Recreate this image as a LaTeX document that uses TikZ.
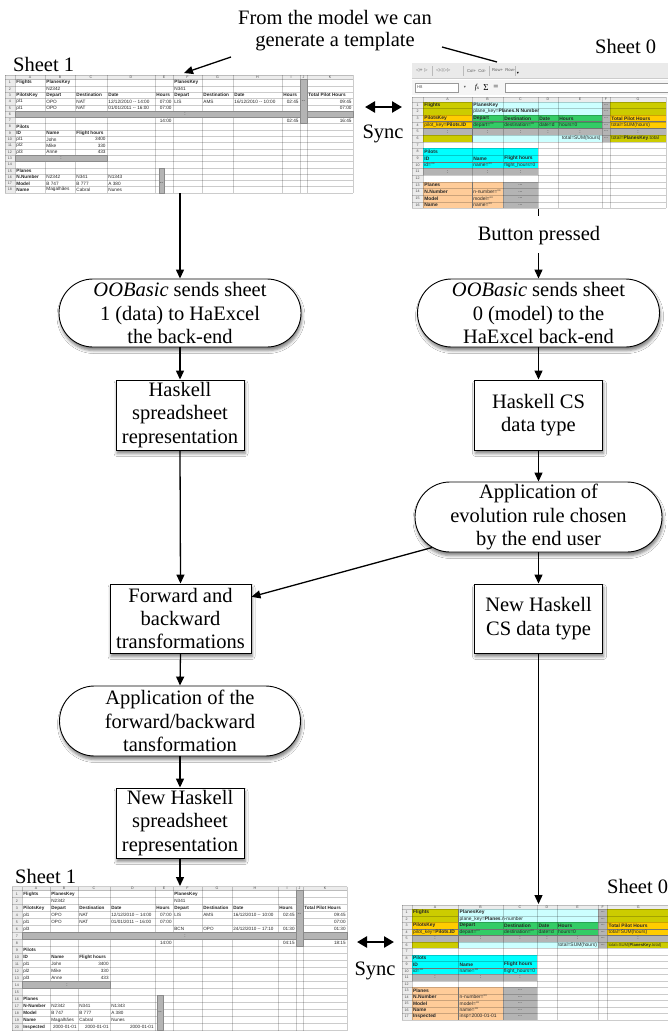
\documentclass[tikz,border=0pt]{standalone}
\usepackage{fontspec}
\setmainfont{Liberation Serif}
\newfontfamily\cellfam{Liberation Sans}
\newfontfamily\symfam{DejaVu Sans}
\usetikzlibrary{arrows.meta,shapes.misc,shadows.blur}
\definecolor{olivec}{HTML}{CCCC00}
\definecolor{lcyanc}{HTML}{CCFFFF}
\definecolor{orangec}{HTML}{FFCC00}
\definecolor{greenc}{HTML}{33CC66}
\definecolor{cyanc}{HTML}{00FFFF}
\definecolor{peachc}{HTML}{FFCC99}
\definecolor{barg}{HTML}{B4B4B4}
\definecolor{bard}{HTML}{8A8A8A}
\definecolor{hdrc}{HTML}{ECECEC}
\definecolor{tbc}{HTML}{EAEAEA}
\definecolor{celltext}{HTML}{262626}
\newcount\cno
\newcommand\cfs{4.7}
\newcommand\cellf{\cellfam\fontsize{\cfs}{\cfs}\selectfont}
\newcommand\cellfb{\cellfam\bfseries\fontsize{\cfs}{\cfs}\selectfont}
\newcommand\hdrf{\cellfam\fontsize{3.6}{3.6}\selectfont}
\newcommand\flowf{\fontsize{20.5}{23.3}\selectfont}
\newcommand\cellnode[4]{\global\advance\cno by 1\relax\edef\cellname{c\the\cno}\node[#1] (\cellname) at ({#2},{#3}) {#4};}
\newcommand\ctl[3]{\cellnode{cl}{#1+1.2}{#2-0.5}{#3}}
\newcommand\ctb[3]{\cellnode{cb}{#1+1.2}{#2-0.5}{#3}}
\newcommand\ctr[3]{\cellnode{cr}{#1-1.2}{#2-0.5}{#3}}
\newcommand\ctc[3]{\cellnode{cc}{#1}{#2-0.5}{#3}}
\newcommand\chc[3]{\cellnode{hc}{(#1+#2)/2}{-\hh/2}{#3}}
\newcommand\crn[1]{\cellnode{hc}{(\xL+\xA)/2}{#1-0.5}{#1}}
\tikzset{
  cl/.style={anchor=west,inner sep=0pt,font=\cellf,text=celltext},
  cb/.style={anchor=west,inner sep=0pt,font=\cellfb,text=celltext},
  cr/.style={anchor=east,inner sep=0pt,font=\cellf,text=celltext},
  cc/.style={anchor=center,inner sep=0pt,font=\cellf,text=celltext},
  hc/.style={anchor=center,inner sep=0pt,font=\hdrf,text=black!70},
  gl/.style={draw=black,opacity=0.2,line width=0.3pt},
  bar/.style={fill=barg,draw=bard,line width=0.3pt},
  sep/.style={draw=black!55,line width=0.45pt},
  tb/.style={inner sep=0pt,font=\cellfam\fontsize{4.2}{4.2}\selectfont,text=black!65},
  oval/.style={rounded rectangle,draw,line width=0.9pt,fill=white,minimum width=234pt,minimum height=68pt,
    align=center,font=\flowf,inner xsep=-4pt,inner ysep=0pt,
    blur shadow={shadow xshift=1pt,shadow yshift=-3.5pt,shadow blur radius=3pt,shadow opacity=50}},
  box/.style={rectangle,draw,line width=0.9pt,fill=white,minimum width=128pt,minimum height=70pt,
    align=center,font=\flowf,inner sep=0pt,
    blur shadow={shadow xshift=1pt,shadow yshift=-3.5pt,shadow blur radius=3pt,shadow opacity=50}},
  arr/.style={line width=1.3pt,-{Triangle[length=9pt,width=8pt]}},
  ln/.style={line width=1.3pt},
  dbl/.style={line width=2.6pt,{Triangle[length=10pt,width=11pt]}-{Triangle[length=10pt,width=11pt]}},
  lbl/.style={font=\flowf,inner sep=0pt}
}
\begin{document}
\begin{tikzpicture}[x=1pt,y=-1pt]
\useasboundingbox (0,0) rectangle (668,1034);
\fill[white] (0,0) rectangle (668,1034);

% ================= Sheet 1 (top left) =================
\begin{scope}[shift={(0,79.5)},y=-6.3pt]
\renewcommand\cfs{4.7}\def\hh{0.714}
\def\xL{5}\def\xA{15}\def\xB{45}\def\xC{75}\def\xD{107}\def\xE{155}\def\xF{173}\def\xG{202}\def\xH{233}\def\xI{282}\def\xJ{300}\def\xK{307}\def\xZ{353}
\fill[hdrc] (\xL,-\hh) rectangle (\xZ,0);
\fill[hdrc] (\xL,0) rectangle (\xA,18);
\foreach \rr in {0,...,18} \draw[gl] (\xL,\rr) -- (\xZ,\rr);
\foreach \x in {\xL,\xA,\xB,\xC,\xD,\xE,\xF,\xG,\xH,\xI,\xJ,\xK,\xZ} \draw[gl] (\x,-\hh) -- (\x,18);
\draw[gl] (\xL,-\hh) -- (\xZ,-\hh);
\draw[bar] (\xA,5) rectangle (\xZ,6);
\draw[bar] (\xJ,0) rectangle (\xK,7);
\draw[bar] (\xA,12) rectangle (\xD,13);
\draw[bar] (159,14) rectangle (164,18);
\chc{\xA}{\xB}{A}\chc{\xB}{\xC}{B}\chc{\xC}{\xD}{C}\chc{\xD}{\xE}{D}\chc{\xE}{\xF}{E}\chc{\xF}{\xG}{F}
\chc{\xG}{\xH}{G}\chc{\xH}{\xI}{H}\chc{\xI}{\xJ}{I}\chc{\xJ}{\xK}{J}\chc{\xK}{\xZ}{K}
\foreach \rr in {1,...,18} {\crn{\rr}}
\ctb{\xA}{1}{Flights}\ctb{\xB}{1}{PlanesKey}\ctb{\xF}{1}{PlanesKey}
\ctl{\xB}{2}{N2342}\ctl{\xF}{2}{N341}
\ctb{\xA}{3}{PilotsKey}\ctb{\xB}{3}{Depart}\ctb{\xC}{3}{Destination}\ctb{\xD}{3}{Date}\ctb{\xE}{3}{Hours}
\ctb{\xF}{3}{Depart}\ctb{\xG}{3}{Destination}\ctb{\xH}{3}{Date}\ctb{\xI}{3}{Hours}\ctb{\xK}{3}{Total Pilot Hours}
\ctl{\xA}{4}{pl1}\ctl{\xB}{4}{OPO}\ctl{\xC}{4}{NAT}\ctl{\xD}{4}{12/12/2010 -- 14:00}\ctr{\xF}{4}{07:00}
\ctl{\xF}{4}{LIS}\ctl{\xG}{4}{AMS}\ctl{\xH}{4}{16/12/2010 -- 10:00}\ctr{\xJ}{4}{02:45}\ctc{303.5}{4}{--}\ctr{\xZ}{4}{09:45}
\ctl{\xA}{5}{pl1}\ctl{\xB}{5}{OPO}\ctl{\xC}{5}{NAT}\ctl{\xD}{5}{01/01/2011 -- 16:00}\ctr{\xF}{5}{07:00}\ctr{\xZ}{5}{07:00}
\ctc{185}{6}{:}
\ctr{\xF}{7}{14:00}\ctr{\xJ}{7}{02:45}\ctr{\xZ}{7}{16:45}
\ctb{\xA}{8}{Pilots}
\ctb{\xA}{9}{ID}\ctb{\xB}{9}{Name}\ctb{\xC}{9}{Flight hours}
\ctl{\xA}{10}{pl1}\ctl{\xB}{10}{John}\ctr{\xD}{10}{3400}
\ctl{\xA}{11}{pl2}\ctl{\xB}{11}{Mike}\ctr{\xD}{11}{330}
\ctl{\xA}{12}{pl3}\ctl{\xB}{12}{Anne}\ctr{\xD}{12}{433}
\ctc{61}{13}{:}
\ctb{\xA}{15}{Planes}
\ctb{\xA}{16}{N.Number}\ctl{\xB}{16}{N2342}\ctl{\xC}{16}{N341}\ctl{\xD}{16}{N1343}
\ctb{\xA}{17}{Model}\ctl{\xB}{17}{B 747}\ctl{\xC}{17}{B 777}\ctl{\xD}{17}{A 380}\ctc{161.5}{17}{--}
\ctb{\xA}{18}{Name}\ctl{\xB}{18}{Magalhães}\ctl{\xC}{18}{Cabral}\ctl{\xD}{18}{Nunes}
\end{scope}

% ================= Sheet 0 (top right) =================
\fill[tbc] (412,63) rectangle (668,78);
\draw[gl] (412,78) -- (668,78);
\node[tb,anchor=west] (tb1) at (416,70.5) {\symfam ◁+ ▷};
\node[tb,anchor=west] (tb2) at (436,70.5) {\symfam ◁◁ ▷▷};
\node[tb,anchor=west] (tb3) at (467,70.5) {Col+ \ Col-};
\node[tb,anchor=west] (tb4) at (492,70.5) {Row+ \ Row-};
\node[tb,anchor=center,text=black] (tb5) at (518,73) {\symfam ▾};
\draw[gl] (432,66) -- (432,76) (463,66) -- (463,76) (489.5,66) -- (489.5,76) (515,66) -- (515,76);
\fill[black!4] (412,80) rectangle (668,95);
\draw[black!40,fill=white,line width=0.3pt] (415,83) rectangle (458,92);
\node[tb,anchor=west] (nbx) at (417,87.5) {H8};
\node[tb,anchor=center] (nbd) at (465,87.5) {\symfam ▾};
\node[inner sep=0pt,font=\itshape\fontsize{7.5}{8}\selectfont] (fxs) at (477,87.5) {f{\fontsize{5}{5}\selectfont x}};
\node[inner sep=0pt,font=\fontsize{9}{9}\selectfont] (sig) at (486,87.5) {Σ};
\node[inner sep=0pt,font=\fontsize{9}{9}\selectfont] (eqs) at (496,87.5) {=};
\draw[black!40,fill=white,line width=0.3pt] (505,83) rectangle (670,92);

\begin{scope}[shift={(0,101.7)},y=-6.67pt]
\renewcommand\cfs{4.9}\def\hh{0.7}
\def\xL{412}\def\xA{423}\def\xB{472}\def\xC{503}\def\xD{538}\def\xE{558}\def\xF{602}\def\xG{610}\def\xZ{666}
\fill[hdrc] (\xL,-\hh) rectangle (\xZ,0);
\fill[hdrc] (\xL,0) rectangle (\xA,16);
\fill[olivec] (\xA,0) rectangle (\xB,2);
\fill[olivec] (\xA,5) rectangle (\xB,6);
\fill[olivec] (\xG,0) rectangle (\xZ,2);
\fill[olivec] (\xG,5) rectangle (\xZ,6);
\fill[lcyanc] (\xB,0) rectangle (\xF,2);
\fill[lcyanc] (\xB,5) rectangle (\xF,6);
\fill[orangec] (\xA,2) rectangle (\xB,4);
\fill[orangec] (\xG,2) rectangle (\xZ,4);
\fill[greenc] (\xB,2) rectangle (\xF,4);
\fill[barg] (\xA,4) rectangle (\xF,5);
\fill[barg] (\xG,4) rectangle (\xZ,5);
\fill[barg] (\xF,0) rectangle (\xG,6);
\fill[cyanc] (\xA,7) rectangle (\xD,10);
\fill[barg] (\xA,10) rectangle (\xD,11);
\fill[peachc] (\xA,12) rectangle (\xC,16);
\fill[barg] (\xC,12) rectangle (\xD,16);
\foreach \rr in {0,...,16} \draw[gl] (\xL,\rr) -- (\xZ,\rr);
\foreach \x in {\xL,\xA,\xB,\xC,\xD,\xE,\xF,\xG,\xZ} \draw[gl] (\x,-\hh) -- (\x,16);
\draw[gl] (\xL,-\hh) -- (\xZ,-\hh);
\draw[sep] (\xA,3) -- (\xF,3) (\xG,3) -- (\xZ,3) (\xA,4) -- (\xF,4) (\xG,4) -- (\xZ,4);
\draw[sep] (\xB,0) -- (\xB,6) (\xA,9) -- (\xD,9) (\xB,12) -- (\xB,16);
\chc{\xA}{\xB}{A}\chc{\xB}{\xC}{B}\chc{\xC}{\xD}{C}\chc{\xD}{\xE}{D}\chc{\xE}{\xF}{E}\chc{\xF}{\xG}{F}\chc{\xG}{\xZ}{G}
\foreach \rr in {1,...,16} {\crn{\rr}}
\ctb{\xA}{1}{Flights}\ctb{\xB}{1}{PlanesKey}
\ctl{\xB}{2}{plane\_key=\textbf{Planes.N Number}}
\ctb{\xA}{3}{PilotsKey}\ctb{\xB}{3}{Depart}\ctb{\xC}{3}{Destination}\ctb{\xD}{3}{Date}\ctb{\xE}{3}{Hours}\ctb{\xG}{3}{Total Pilot Hours}
\ctl{\xA}{4}{pilot\_key=\textbf{Pilots.ID}}\ctl{\xB}{4}{depart=""}\ctl{\xC}{4}{destination=""}\ctl{\xD}{4}{date=d}\ctl{\xE}{4}{hours=0}\ctl{\xG}{4}{total=SUM(hours)}
\ctc{447.5}{5}{:}\ctc{487.5}{5}{:}\ctc{520.5}{5}{:}\ctc{548}{5}{:}\ctc{580}{5}{:}\ctc{638}{5}{:}
\foreach \rr in {1,...,6} {\ctc{606}{\rr}{...}}
\ctr{\xF}{6}{total=SUM(hours)}\ctl{\xG}{6}{total=\textbf{PlanesKey}.total}
\ctb{\xA}{8}{Pilots}
\ctb{\xA}{9}{ID}\ctb{\xB}{9}{Name}\ctb{\xC}{9}{Flight hours}
\ctl{\xA}{10}{id=""}\ctl{\xB}{10}{name=""}\ctl{\xC}{10}{flight\_hours=0}
\ctc{447.5}{11}{:}\ctc{487.5}{11}{:}\ctc{520.5}{11}{:}
\ctb{\xA}{13}{Planes}
\ctb{\xA}{14}{N.Number}\ctl{\xB}{14}{n-number=""}
\ctb{\xA}{15}{Model}\ctl{\xB}{15}{model=""}
\ctb{\xA}{16}{Name}\ctl{\xB}{16}{name=""}
\foreach \rr in {13,...,16} {\ctc{520.5}{\rr}{...}}
\end{scope}

% ================= Sheet 1 (bottom left) =================
\begin{scope}[shift={(0,890.5)},y=-7pt]
\renewcommand\cfs{4.6}\def\hh{0.57}
\def\xL{12}\def\xA{22}\def\xB{50}\def\xC{78}\def\xD{110}\def\xE{155}\def\xF{173}\def\xG{202}\def\xH{232}\def\xI{278}\def\xJ{296}\def\xK{303}\def\xZ{347}
\fill[hdrc] (\xL,-\hh) rectangle (\xZ,0);
\fill[hdrc] (\xL,0) rectangle (\xA,20);
\foreach \rr in {0,...,20} \draw[gl] (\xL,\rr) -- (\xZ,\rr);
\foreach \x in {\xL,\xA,\xB,\xC,\xD,\xE,\xF,\xG,\xH,\xI,\xJ,\xK,\xZ} \draw[gl] (\x,-\hh) -- (\x,20);
\draw[gl] (\xL,-\hh) -- (\xZ,-\hh);
\draw[bar] (\xA,6) rectangle (\xZ,7);
\draw[bar] (\xJ,0) rectangle (\xK,8);
\draw[bar] (\xA,13) rectangle (\xD,14);
\draw[bar] (157,15) rectangle (163,20);
\chc{\xA}{\xB}{A}\chc{\xB}{\xC}{B}\chc{\xC}{\xD}{C}\chc{\xD}{\xE}{D}\chc{\xE}{\xF}{E}\chc{\xF}{\xG}{F}
\chc{\xG}{\xH}{G}\chc{\xH}{\xI}{H}\chc{\xI}{\xJ}{I}\chc{\xJ}{\xK}{J}\chc{\xK}{\xZ}{K}
\foreach \rr in {1,...,20} {\crn{\rr}}
\ctb{\xA}{1}{Flights}\ctb{\xB}{1}{PlanesKey}\ctb{\xF}{1}{PlanesKey}
\ctl{\xB}{2}{N2342}\ctl{\xF}{2}{N341}
\ctb{\xA}{3}{PilotsKey}\ctb{\xB}{3}{Depart}\ctb{\xC}{3}{Destination}\ctb{\xD}{3}{Date}\ctb{\xE}{3}{Hours}
\ctb{\xF}{3}{Depart}\ctb{\xG}{3}{Destination}\ctb{\xH}{3}{Date}\ctb{\xI}{3}{Hours}\ctb{\xK}{3}{Total Pilot Hours}
\ctl{\xA}{4}{pl1}\ctl{\xB}{4}{OPO}\ctl{\xC}{4}{NAT}\ctl{\xD}{4}{12/12/2010 -- 14:00}\ctr{\xF}{4}{07:00}
\ctl{\xF}{4}{LIS}\ctl{\xG}{4}{AMS}\ctl{\xH}{4}{16/12/2010 -- 10:00}\ctr{\xJ}{4}{02:45}\ctc{299.5}{4}{--}\ctr{\xZ}{4}{09:45}
\ctl{\xA}{5}{pl1}\ctl{\xB}{5}{OPO}\ctl{\xC}{5}{NAT}\ctl{\xD}{5}{01/01/2011 -- 16:00}\ctr{\xF}{5}{07:00}\ctr{\xZ}{5}{07:00}
\ctl{\xA}{6}{pl3}\ctl{\xF}{6}{BCN}\ctl{\xG}{6}{OPO}\ctl{\xH}{6}{24/12/2010 -- 17:10}\ctr{\xJ}{6}{01:30}\ctr{\xZ}{6}{01:30}
\ctc{185}{7}{:}
\ctr{\xF}{8}{14:00}\ctr{\xJ}{8}{04:15}\ctr{\xZ}{8}{18:15}
\ctb{\xA}{9}{Pilots}
\ctb{\xA}{10}{ID}\ctb{\xB}{10}{Name}\ctb{\xC}{10}{Flight hours}
\ctl{\xA}{11}{pl1}\ctl{\xB}{11}{John}\ctr{\xD}{11}{3400}
\ctl{\xA}{12}{pl2}\ctl{\xB}{12}{Mike}\ctr{\xD}{12}{330}
\ctl{\xA}{13}{pl3}\ctl{\xB}{13}{Anne}\ctr{\xD}{13}{433}
\ctc{67}{14}{:}
\ctb{\xA}{16}{Planes}
\ctb{\xA}{17}{N-Number}\ctl{\xB}{17}{N2342}\ctl{\xC}{17}{N341}\ctl{\xD}{17}{N1343}
\ctb{\xA}{18}{Model}\ctl{\xB}{18}{B 747}\ctl{\xC}{18}{B 777}\ctl{\xD}{18}{A 380}\ctc{160}{18}{--}
\ctb{\xA}{19}{Name}\ctl{\xB}{19}{Magalhães}\ctl{\xC}{19}{Cabral}\ctl{\xD}{19}{Nunes}
\ctb{\xA}{20}{Inspected}\ctr{\xC}{20}{2000-01-01}\ctr{\xD}{20}{2000-01-01}\ctr{\xE}{20}{2000-01-01}
\end{scope}

% ================= Sheet 0 (bottom right) =================
\begin{scope}[shift={(0,909.4)},y=-6.5pt]
\renewcommand\cfs{4.9}\def\hh{0.68}
\def\xL{401.7}\def\xA{411.7}\def\xB{458.3}\def\xC{502.7}\def\xD{537.3}\def\xE{556.7}\def\xF{598.3}\def\xG{607.3}\def\xZ{669}
\fill[hdrc] (\xL,-\hh) rectangle (\xZ,0);
\fill[hdrc] (\xL,0) rectangle (\xA,17);
\fill[olivec] (\xA,0) rectangle (\xB,2);
\fill[olivec] (\xA,5) rectangle (\xB,6);
\fill[olivec] (\xG,0) rectangle (\xZ,2);
\fill[olivec] (\xG,5) rectangle (\xZ,6);
\fill[lcyanc] (\xB,0) rectangle (\xF,2);
\fill[lcyanc] (\xB,5) rectangle (\xF,6);
\fill[orangec] (\xA,2) rectangle (\xB,4);
\fill[orangec] (\xG,2) rectangle (\xZ,4);
\fill[greenc] (\xB,2) rectangle (\xF,4);
\fill[barg] (\xA,4) rectangle (\xF,5);
\fill[barg] (\xG,4) rectangle (\xZ,5);
\fill[barg] (\xF,0) rectangle (\xG,6);
\fill[cyanc] (\xA,7) rectangle (\xD,10);
\fill[barg] (\xA,10) rectangle (\xD,11);
\fill[peachc] (\xA,12) rectangle (\xC,17);
\fill[barg] (\xC,12) rectangle (\xD,17);
\foreach \rr in {0,...,17} \draw[gl] (\xL,\rr) -- (\xZ,\rr);
\foreach \x in {\xL,\xA,\xB,\xC,\xD,\xE,\xF,\xG} \draw[gl] (\x,-\hh) -- (\x,17);
\draw[gl] (\xL,-\hh) -- (\xZ,-\hh);
\draw[sep] (\xA,3) -- (\xF,3) (\xG,3) -- (\xZ,3) (\xA,4) -- (\xF,4) (\xG,4) -- (\xZ,4);
\draw[sep] (\xB,0) -- (\xB,6) (\xA,9) -- (\xD,9) (\xB,12) -- (\xB,17);
\chc{\xA}{\xB}{A}\chc{\xB}{\xC}{B}\chc{\xC}{\xD}{C}\chc{\xD}{\xE}{D}\chc{\xE}{\xF}{E}\chc{\xF}{\xG}{F}\chc{\xG}{\xZ}{G}
\foreach \rr in {1,...,17} {\crn{\rr}}
\ctb{\xA}{1}{Flights}\ctb{\xB}{1}{PlanesKey}
\ctl{\xB}{2}{plane\_key=\textbf{Planes}.n-number}
\ctb{\xA}{3}{PilotsKey}\ctb{\xB}{3}{Depart}\ctb{\xC}{3}{Destination}\ctb{\xD}{3}{Date}\ctb{\xE}{3}{Hours}\ctb{\xG}{3}{Total Pilot Hours}
\ctl{\xA}{4}{pilot\_key=\textbf{Pilots.ID}}\ctl{\xB}{4}{depart=""}\ctl{\xC}{4}{destination=""}\ctl{\xD}{4}{date=d}\ctl{\xE}{4}{hours=0}\ctl{\xG}{4}{total=SUM(hours)}
\ctc{435}{5}{:}\ctc{480.5}{5}{:}\ctc{520}{5}{:}\ctc{547}{5}{:}\ctc{577.5}{5}{:}\ctc{638}{5}{:}
\foreach \rr in {1,...,6} {\ctc{602.8}{\rr}{...}}
\ctr{\xF}{6}{total=SUM(hours)}
\cellnode{cl,font=\cellfam\fontsize{4.2}{4.2}\selectfont}{\xG+1}{5.5}{total=SUM(\textbf{PlanesKey}.total)}
\ctb{\xA}{8}{Pilots}
\ctb{\xA}{9}{ID}\ctb{\xB}{9}{Name}\ctb{\xC}{9}{Flight hours}
\ctl{\xA}{10}{id=""}\ctl{\xB}{10}{name=""}\ctl{\xC}{10}{flight\_hours=0}
\ctc{435}{11}{:}\ctc{480.5}{11}{:}\ctc{520}{11}{:}
\ctb{\xA}{13}{Planes}
\ctb{\xA}{14}{N.Number}\ctl{\xB}{14}{n-number=""}
\ctb{\xA}{15}{Model}\ctl{\xB}{15}{model=""}
\ctb{\xA}{16}{Name}\ctl{\xB}{16}{name=""}
\ctb{\xA}{17}{Inspected}\ctl{\xB}{17}{insp=2000-01-01}
\foreach \rr in {13,...,17} {\ctc{520}{\rr}{...}}
\end{scope}

% ================= labels =================
\node[lbl,anchor=base] (gen1) at (335,24) {From the model we can};
\node[lbl,anchor=base] (gen2) at (335,46) {generate a template};
\node[lbl,anchor=base west] (sh1t) at (13,71) {Sheet 1};
\node[lbl,anchor=base west] (sh0t) at (595,53) {Sheet 0};
\node[lbl,anchor=base west] (sh1b) at (15,883) {Sheet 1};
\node[lbl,anchor=base west] (sh0b) at (607,893) {Sheet 0};
\node[lbl,anchor=base] (sync1) at (383,138) {Sync};
\node[lbl,anchor=base] (sync2) at (375,975) {Sync};
\node[lbl,anchor=base] (bp) at (539,240) {Button pressed};

% ================= flow nodes =================
\node[oval] (L1) at (180,313) {\textit{OOBasic} sends sheet\\1 (data) to HaExcel\\the back-end};
\node[oval] (R1) at (538.5,313) {\textit{OOBasic} sends sheet\\0 (model) to the\\HaExcel back-end};
\node[box] (L2) at (180,415) {Haskell\\spreadsheet\\representation};
\node[box] (R2) at (538.5,415) {Haskell CS\\data type};
\node[oval,minimum width=239pt,minimum height=70pt] (R3) at (538.5,517) {Application of\\evolution rule chosen\\by the end user};
\node[box,minimum width=141pt,minimum height=69pt] (L3) at (180.5,618.5) {Forward and\\backward\\transformations};
\node[box,minimum height=69pt] (R4) at (538.5,618.5) {New Haskell\\CS data type};
\node[oval,minimum width=233pt,minimum height=70pt] (L4) at (180,721) {Application of the\\forward/backward\\tansformation};
\node[box] (L5) at (180,823) {New Haskell\\spreadsheet\\representation};

% ================= anchor coordinates =================
\coordinate (TLb) at (180,193);
\coordinate (TRb) at (538.5,209);
\coordinate (bpt) at (538.5,216);
\coordinate (bpa) at (538.5,253);
\coordinate (BLt) at (180,886);
\coordinate (BRt) at (538.5,904);
\coordinate (ga) at (231,57);
\coordinate (TLf) at (184,73);
\coordinate (gb) at (442,47);
\coordinate (TRt) at (497,62);
\coordinate (s1a) at (365,107);
\coordinate (s1b) at (402,107);
\coordinate (s2a) at (357,942);
\coordinate (s2b) at (394,942);

% ================= connectors =================
\draw[arr] (ga) -- (TLf);
\draw[ln] (gb) -- (TRt);
\draw[dbl] (s1a) -- (s1b);
\draw[dbl] (s2a) -- (s2b);
\draw[arr] (TLb) -- (L1.north);
\draw[ln] (TRb) -- (bpt);
\draw[arr] (bpa) -- (R1.north);
\draw[arr] (L1.south) -- (L2.north);
\draw[arr] (R1.south) -- (R2.north);
\draw[arr] (R2.south) -- (R3.north);
\draw[arr] (R3.south) -- (R4.north);
\draw[arr] (R3.196) -- (L3.17);
\draw[arr] (L2.south) -- (L3.north);
\draw[arr] (L3.south) -- (L4.north);
\draw[arr] (L4.south) -- (L5.north);
\draw[arr] (L5.south) -- (BLt);
\draw[arr] (R4.south) -- (BRt);
\end{tikzpicture}
\end{document}
